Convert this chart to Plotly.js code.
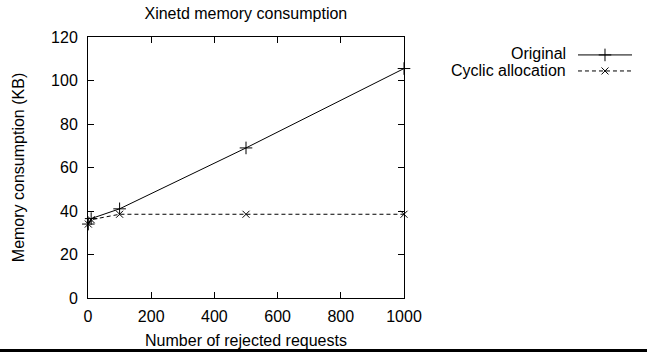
<!DOCTYPE html>
<html>
<head>
<meta charset="utf-8">
<script src="https://cdn.plot.ly/plotly-3.0.1.min.js"></script>
<style>html,body{margin:0;padding:0;background:#fff}#chart{width:647px;height:352px}</style>
</head>
<body>
<div id="chart"></div>
<script>
const requests = [1, 10, 100, 500, 1000];
const originalKB = [34, 36.5, 41, 69, 105.5];
const cyclicKB = [34, 36, 38.5, 38.5, 38.5];
const seriesNames = ["Original", "Cyclic allocation"];
const xTicks = [0, 200, 400, 600, 800, 1000];
const yTicks = [0, 20, 40, 60, 80, 100, 120];
const legendX = [0, 1];

const FONT = "Liberation Sans, Arial, sans-serif";
const FS = 16;

const traces = [
  {x: requests, y: originalKB, name: seriesNames[0], mode: "lines+markers",
   line: {color: "#000", width: 1, dash: "solid"},
   marker: {symbol: "cross-thin", size: 9, line: {color: "#000", width: 1}},
   showlegend: false, cliponaxis: false},
  {x: requests, y: cyclicKB, name: seriesNames[1], mode: "lines+markers",
   line: {color: "#000", width: 1, dash: "4px,3px"},
   marker: {symbol: "x-thin", size: 7, line: {color: "#000", width: 1}},
   showlegend: false, cliponaxis: false},
  // legend samples
  {x: legendX, y: [0, 0], xaxis: "x2", yaxis: "y2", mode: "lines", hoverinfo: "skip",
   line: {color: "#000", width: 1}, showlegend: false},
  {x: [0.5], y: [0], xaxis: "x2", yaxis: "y2", mode: "markers", hoverinfo: "skip",
   marker: {symbol: "cross-thin", size: 9, line: {color: "#000", width: 1}}, showlegend: false},
  {x: legendX, y: [-1, -1], xaxis: "x2", yaxis: "y2", mode: "lines", hoverinfo: "skip",
   line: {color: "#000", width: 1, dash: "4px,3px"}, showlegend: false},
  {x: [0.5], y: [-1], xaxis: "x2", yaxis: "y2", mode: "markers", hoverinfo: "skip",
   marker: {symbol: "x-thin", size: 7, line: {color: "#000", width: 1}}, showlegend: false}
];

const axisCommon = {
  showline: true, linecolor: "#000", linewidth: 1, mirror: "allticks",
  ticks: "inside", ticklen: 6, tickcolor: "#000", tickwidth: 1,
  showgrid: false, zeroline: false,
  tickfont: {family: FONT, size: FS, color: "#000"}
};

const layout = {
  width: 647, height: 352,
  margin: {l: 88, r: 10, t: 37, b: 54},
  paper_bgcolor: "#fff", plot_bgcolor: "#fff",
  font: {family: FONT, color: "#000"},
  title: {text: "Xinetd memory consumption", font: {family: FONT, size: FS, color: "#000"},
          x: 0.38, xanchor: "center", y: 0.963, yanchor: "middle"},
  xaxis: Object.assign({}, axisCommon, {
    domain: [0, 0.5756],
    range: [0, 1000], tickvals: xTicks, ticktext: xTicks.map(String),
    ticklabelstandoff: 4,
    title: {text: "Number of rejected requests", font: {family: FONT, size: FS, color: "#000"}, standoff: 10}
  }),
  yaxis: Object.assign({}, axisCommon, {
    range: [0, 120], tickvals: yTicks, ticktext: yTicks.map(String),
    ticklabelstandoff: 6,
    title: {text: "Memory consumption (KB)", font: {family: FONT, size: FS, color: "#000"}, standoff: 22}
  }),
  xaxis2: {domain: [0.8925, 0.9909], range: [0, 1], visible: false, anchor: "y2", fixedrange: true},
  yaxis2: {domain: [0.843, 0.962], range: [-1.438, 0.5], visible: false, anchor: "x2", fixedrange: true},
  annotations: [
    {xref: "paper", yref: "paper", x: 0.8743, y: 0.935, xanchor: "right", yanchor: "middle",
     text: seriesNames[0], showarrow: false, font: {family: FONT, size: FS, color: "#000"}},
    {xref: "paper", yref: "paper", x: 0.8743, y: 0.871, xanchor: "right", yanchor: "middle",
     text: seriesNames[1], showarrow: false, font: {family: FONT, size: FS, color: "#000"}}
  ],
  shapes: [
    {type: "line", xref: "paper", yref: "paper", x0: -0.17, x1: 1.02, y0: -0.201, y1: -0.201,
     line: {color: "#000", width: 3}}
  ]
};

Plotly.newPlot("chart", traces, layout, {staticPlot: true, displayModeBar: false});
</script>
</body>
</html>
